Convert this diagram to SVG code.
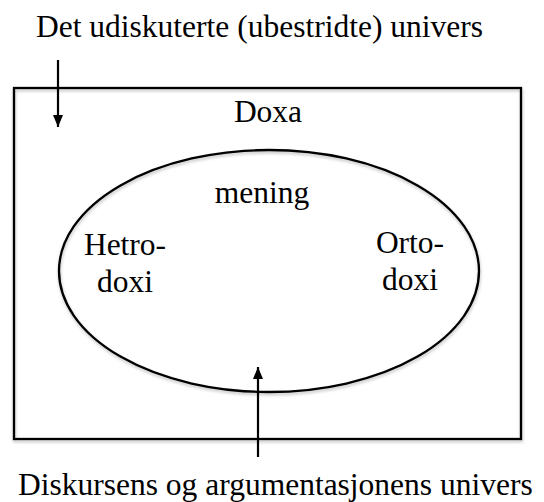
<svg xmlns="http://www.w3.org/2000/svg" width="544" height="502" viewBox="0 0 544 502">
<defs>
<style>
text{font-family:"Liberation Serif","Times New Roman",serif;font-size:31.5px;fill:#000}
.shape{fill:none;stroke:#000;stroke-width:2.3}
.conn{stroke:#000;stroke-width:2.2;fill:none}
</style>
<filter id="sh" x="-10%" y="-10%" width="120%" height="130%">
<feDropShadow dx="0.5" dy="2" stdDeviation="1.5" flood-color="#000" flood-opacity="0.25"/>
</filter>
<marker id="ah" viewBox="0 0 12 10" refX="12" refY="5" markerWidth="12" markerHeight="10" markerUnits="userSpaceOnUse" orient="auto">
<path d="M0,0 L12,5 L0,10 Z" fill="#000"/>
</marker>
</defs>
<rect width="544" height="502" fill="#fff"/>
<g id="doxa">
<rect class="shape" x="14" y="88" width="507" height="351" filter="url(#sh)"/>
<text x="268" y="122" text-anchor="middle">Doxa</text>
</g>
<g id="mening">
<ellipse class="shape" cx="269" cy="271" rx="210" ry="121" filter="url(#sh)"/>
<text x="262" y="203" text-anchor="middle">mening</text>
</g>
<g id="hetrodoxi">
<text x="125" y="255" text-anchor="middle">Hetro-</text>
<text x="125" y="292" text-anchor="middle">doxi</text>
</g>
<g id="ortodoxi">
<text x="410" y="253" text-anchor="middle">Orto-</text>
<text x="410" y="290" text-anchor="middle">doxi</text>
</g>
<g id="label-top">
<text x="36" y="37">Det udiskuterte (ubestridte) univers</text>
</g>
<g id="label-bottom">
<text x="18" y="495">Diskursens og argumentasjonens univers</text>
</g>
<g id="connectors">
<line class="conn" x1="58" y1="60" x2="58" y2="127" marker-end="url(#ah)"/>
<line class="conn" x1="258" y1="457" x2="258" y2="367" marker-end="url(#ah)"/>
</g>
</svg>
